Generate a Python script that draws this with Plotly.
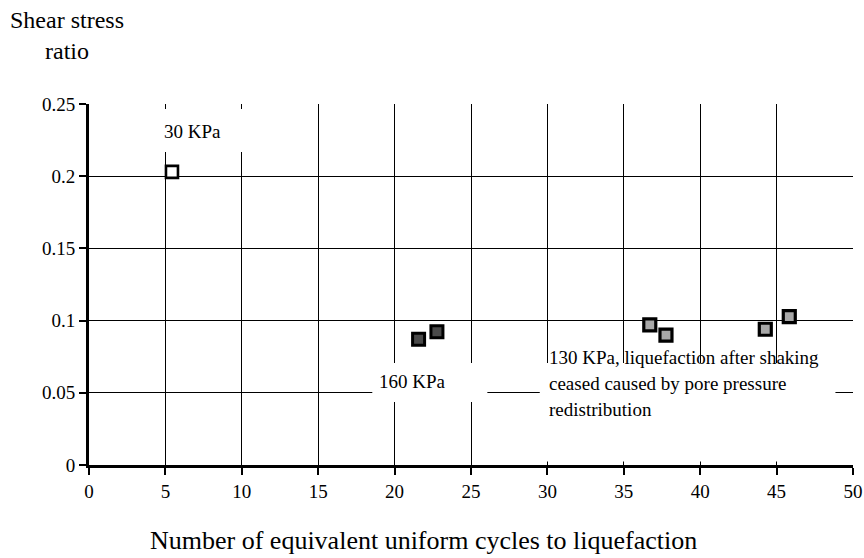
import plotly.graph_objects as go

# ---- data ----
x_30kpa = [5.43]
y_30kpa = [0.203]
x_160kpa = [21.57, 22.77]
y_160kpa = [0.087, 0.0923]
x_130kpa = [36.7, 37.76, 44.26, 45.83]
y_130kpa = [0.097, 0.090, 0.094, 0.1027]

x_ticks = [0, 5, 10, 15, 20, 25, 30, 35, 40, 45, 50]
y_ticks = [0, 0.05, 0.1, 0.15, 0.2, 0.25]
y_tick_labels = ["0", "0.05", "0.1", "0.15", "0.2", "0.25"]

FONT = "Liberation Serif, Times New Roman, serif"

fig = go.Figure()
fig.add_trace(go.Scatter(
    x=x_30kpa, y=y_30kpa, mode="markers", showlegend=False,
    marker=dict(symbol="square", size=12, color="white",
                line=dict(color="black", width=2.6))))
fig.add_trace(go.Scatter(
    x=x_160kpa, y=y_160kpa, mode="markers", showlegend=False,
    marker=dict(symbol="square", size=12, color="#4a4a4a",
                line=dict(color="black", width=3))))
fig.add_trace(go.Scatter(
    x=x_130kpa, y=y_130kpa, mode="markers", showlegend=False,
    marker=dict(symbol="square", size=12, color="#a8a8a8",
                line=dict(color="black", width=3.2))))

# white label boxes hiding gridlines (between grid and traces)
boxes = [
    (2.0, 11.6, 0.2168, 0.2465),
    (18.54, 26.07, 0.0436, 0.0706),
    (29.5, 48.85, 0.0025, 0.0706),
]
for x0, x1, y0, y1 in boxes:
    fig.add_shape(type="rect", xref="x", yref="y", x0=x0, x1=x1, y0=y0, y1=y1,
                  fillcolor="white", line=dict(width=0), layer="between")

fs = 19
fig.add_annotation(x=6.77, y=0.231, text="30 KPa", showarrow=False,
                   font=dict(family=FONT, size=fs, color="black"))
fig.add_annotation(x=21.2, y=0.0575, text="160 KPa", showarrow=False,
                   font=dict(family=FONT, size=fs, color="black"))
lines_130 = ["130 KPa, liquefaction after shaking",
             "ceased caused by pore pressure",
             "redistribution"]
line_y = [0.0745, 0.0565, 0.0385]
for t, yy in zip(lines_130, line_y):
    fig.add_annotation(x=29.95, y=yy, text=t, showarrow=False, xanchor="left",
                       font=dict(family=FONT, size=fs, color="black"))

# axis titles
fig.add_annotation(xref="paper", yref="paper", x=-0.0285, y=1.19,
                   text="Shear stress<br>ratio", showarrow=False, align="center",
                   xanchor="center", yanchor="middle",
                   font=dict(family=FONT, size=24, color="black"))
fig.add_annotation(xref="paper", yref="paper", x=0.4376, y=-0.2078,
                   text="Number of equivalent uniform cycles to liquefaction",
                   showarrow=False, xanchor="center", yanchor="middle",
                   font=dict(family=FONT, size=26, color="black"))

fig.update_xaxes(range=[0, 50], tickvals=x_ticks, ticktext=[str(v) for v in x_ticks],
                 showgrid=True, gridcolor="black", gridwidth=1,
                 showline=True, linecolor="black", linewidth=3,
                 ticks="outside", ticklen=7, tickwidth=2, tickcolor="black",
                 zeroline=False, tickfont=dict(family=FONT, size=19, color="black"))
fig.update_yaxes(range=[0, 0.25], tickvals=y_ticks, ticktext=y_tick_labels,
                 showgrid=True, gridcolor="black", gridwidth=1,
                 showline=True, linecolor="black", linewidth=3,
                 ticks="outside", ticklen=7, tickwidth=2, tickcolor="black",
                 zeroline=False, tickfont=dict(family=FONT, size=19, color="black"))

fig.update_layout(width=864, height=558, plot_bgcolor="white", paper_bgcolor="white",
                  margin=dict(l=89, r=11, t=104, b=93, autoexpand=False),
                  font=dict(family=FONT, color="black"))

# remove the default page margin so the 864x558 figure fills the window exactly
fig.write_html("out.html",
               config={"displayModeBar": False},
               post_script="document.body.style.margin='0';"
                           "document.body.style.overflow='hidden';")
